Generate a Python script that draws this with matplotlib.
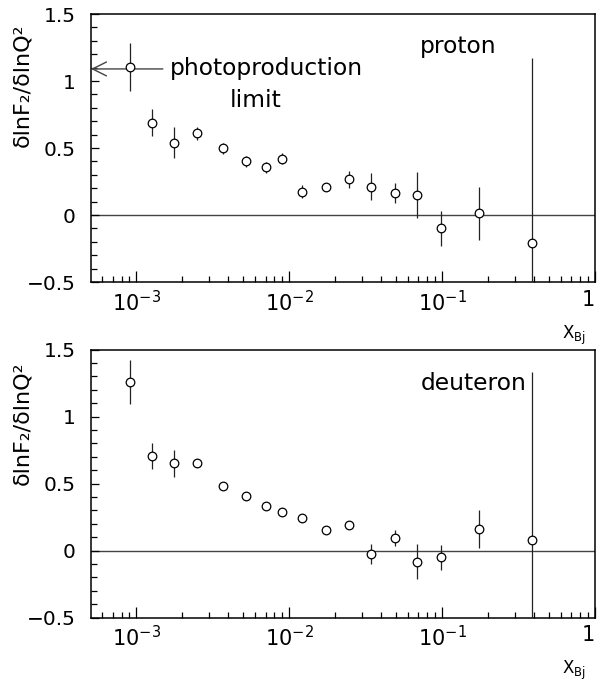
import matplotlib
matplotlib.use("Agg")
import matplotlib.pyplot as plt
from matplotlib.ticker import FixedLocator, FuncFormatter, MultipleLocator, LogLocator, NullFormatter
import numpy as np

plt.rcParams['font.family'] = ['DejaVu Sans']

# x_Bj bins (shared by both panels)
x_bj = [9.1e-4, 1.26e-3, 1.76e-3, 2.48e-3, 3.69e-3, 5.22e-3, 7.0e-3, 9.0e-3,
        1.21e-2, 1.75e-2, 2.45e-2, 3.43e-2, 4.94e-2, 6.89e-2, 9.8e-2, 0.173, 0.386]

# proton: d lnF2 / d lnQ^2
proton_val = [1.107, 0.689, 0.54, 0.61, 0.497, 0.40, 0.356, 0.42,
              0.174, 0.211, 0.266, 0.211, 0.162, 0.149, -0.10, 0.012, -0.207]
proton_err = [0.18, 0.10, 0.115, 0.05, 0.04, 0.04, 0.04, 0.04,
              0.05, 0.03, 0.065, 0.10, 0.075, 0.17, 0.13, 0.20, 1.38]

# deuteron
deuteron_val = [1.26, 0.706, 0.652, 0.652, 0.485, 0.405, 0.336, 0.289,
                0.24, 0.155, 0.192, -0.025, 0.092, -0.082, -0.05, 0.162, 0.08]
deuteron_err = [0.165, 0.10, 0.10, 0.03, 0.02, 0.02, 0.02, 0.03,
                0.03, 0.02, 0.03, 0.075, 0.06, 0.13, 0.095, 0.14, 1.25]

photo_limit = 1.09

fig = plt.figure(figsize=(5.99, 6.82), dpi=100)
W, H = 599.0, 682.0
ax_left, ax_right = 91, 595
panels = [
    (14, 282, proton_val, proton_err),
    (349.5, 617.7, deuteron_val, deuteron_err),
]

def xfmt(v, pos):
    e = int(round(np.log10(v)))
    if e == 0:
        return "1"
    return r"$\mathregular{10^{%d}}$" % e

def yfmt(v, pos):
    s = "%g" % v
    return s.replace("-", "\u2212")

axes = []
for top, bot, vals, errs in panels:
    ax = fig.add_axes([ax_left / W, 1 - bot / H, (ax_right - ax_left) / W, (bot - top) / H])
    axes.append(ax)
    ax.set_xscale('log')
    ax.set_xlim(5.05e-4, 1.0)
    ax.set_ylim(-0.5, 1.5)
    ax.axhline(0, color='#444444', lw=1.0, zorder=1)
    ax.errorbar(x_bj, vals, yerr=errs, fmt='o', ms=6.2, mfc='white', mec='black',
                mew=0.9, ecolor='#222222', elinewidth=0.9, capsize=0, zorder=3)
    ax.xaxis.set_major_locator(FixedLocator([1e-3, 1e-2, 1e-1, 1.0]))
    ax.xaxis.set_minor_locator(LogLocator(base=10, subs=np.arange(2, 10), numticks=20))
    ax.xaxis.set_major_formatter(FuncFormatter(xfmt))
    ax.xaxis.set_minor_formatter(NullFormatter())
    ax.yaxis.set_major_locator(MultipleLocator(0.5))
    ax.yaxis.set_minor_locator(MultipleLocator(0.1))
    ax.yaxis.set_major_formatter(FuncFormatter(yfmt))
    ax.tick_params(axis='both', which='both', direction='in', top=False, right=False, width=0.9)
    ax.tick_params(axis='x', which='major', length=7.6, labelsize=15, pad=5.5)
    ax.tick_params(axis='x', which='minor', length=4.1)
    ax.tick_params(axis='y', which='major', length=5.5, labelsize=14.5, pad=11)
    ax.tick_params(axis='y', which='minor', length=4.1)
    for sp in ax.spines.values():
        sp.set_linewidth(1.1)

ax1, ax2 = axes

# photoproduction limit arrow
ax1.annotate('', xy=(0.0, photo_limit), xycoords=('axes fraction', 'data'),
             xytext=(1.49e-3, photo_limit), textcoords='data',
             arrowprops=dict(arrowstyle='->,head_length=1.0,head_width=0.5',
                             color='#444444', lw=1.0, shrinkA=0, shrinkB=0), zorder=2)
ax1.text(0.1567, 0.772, 'photoproduction', transform=ax1.transAxes, fontsize=16.8,
         ha='left', va='baseline')
ax1.text(0.326, 0.654, 'limit', transform=ax1.transAxes, fontsize=16.8,
         ha='center', va='baseline')
ax1.text(0.728, 0.854, 'proton', transform=ax1.transAxes, fontsize=16.8,
         ha='center', va='baseline')
ax2.text(0.8645, 0.849, 'deuteron', transform=ax2.transAxes, fontsize=16.8,
         ha='right', va='baseline')

# y labels
ylab = 'δlnF\u2082/δlnQ\u00b2'
fig.text(22 / W, 1 - 85 / H, ylab, rotation=90, ha='center', va='center', fontsize=16)
fig.text(22 / W, 1 - 423.5 / H, ylab, rotation=90, ha='center', va='center', fontsize=16)

# x labels
xlab = r'$\mathregular{X_{Bj}}$'
fig.text(574 / W, 1 - 335 / H, xlab, ha='center', va='center', fontsize=12)
fig.text(574 / W, 1 - 670 / H, xlab, ha='center', va='center', fontsize=12)

# right-align the "1" tick label so it stays inside the figure
fig.canvas.draw()
for ax in axes:
    for lab in ax.get_xticklabels():
        if lab.get_text() == "1":
            lab.set_horizontalalignment('right')
            lab.set_x(1.0)

fig.savefig('out.png', dpi=100)
